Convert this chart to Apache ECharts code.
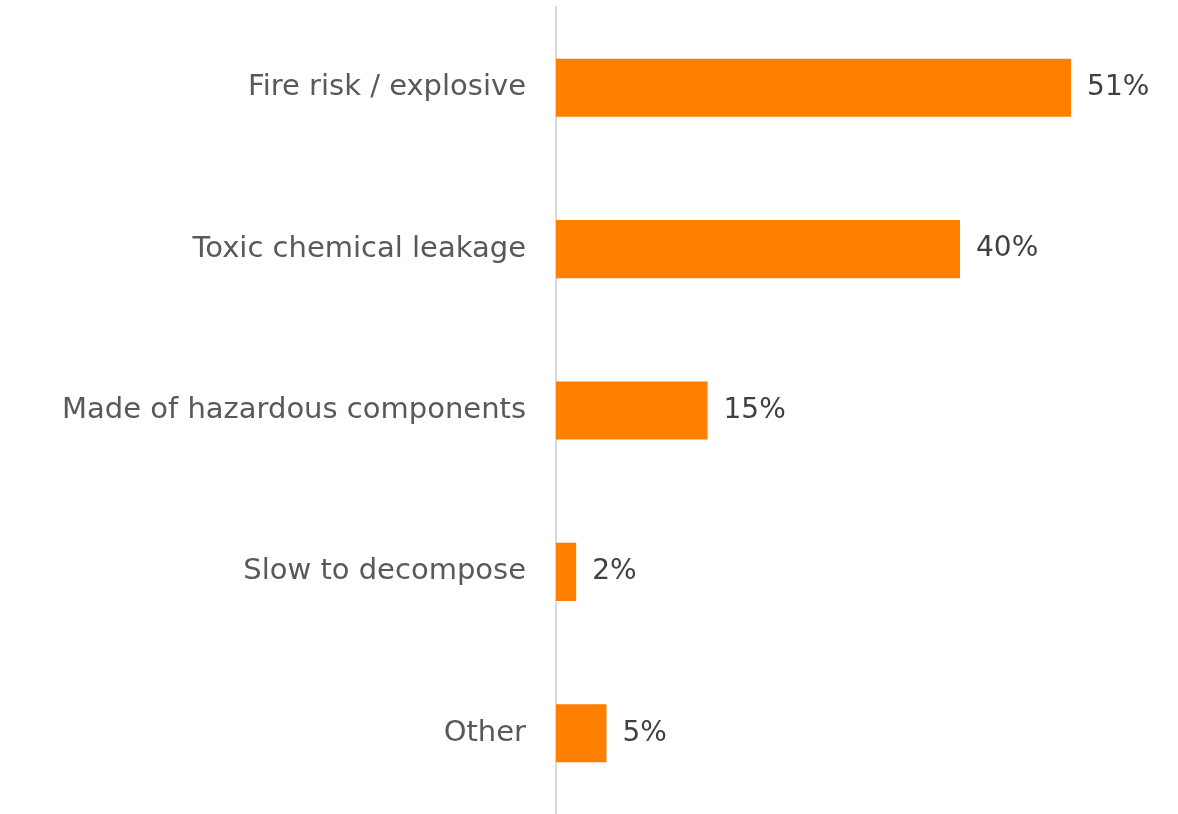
<!DOCTYPE html>
<html><head><meta charset="utf-8">
<script src="https://cdn.jsdelivr.net/npm/echarts@6/dist/echarts.min.js"></script>
<style>html,body{margin:0;padding:0;background:#fff}#c{width:1178px;height:814px}</style>
</head><body><div id="c"></div>
<script>
const categories = ["Fire risk / explosive","Toxic chemical leakage","Made of hazardous components","Slow to decompose","Other"];
const values = [51,40,15,2,5];
const chart = echarts.init(document.getElementById('c'));
chart.setOption({
  animation:false,
  grid:{left:556,right:16,top:7,bottom:-3,containLabel:false},
  xAxis:{type:'value',min:0,max:60,show:false},
  yAxis:{type:'category',inverse:true,data:categories,
    axisLine:{show:true,lineStyle:{color:'#d9d9d9',width:2}},
    axisTick:{show:false},
    axisLabel:{color:'#595959',fontSize:29,fontFamily:'DejaVu Sans',margin:30}},
  series:[{type:'bar',data:values,barCategoryGap:'64%',
    itemStyle:{color:'#FF7F00'},
    label:{show:true,position:'right',distance:16,formatter:'{c}%',color:'#404040',fontSize:28,fontFamily:'DejaVu Sans'}}]
});
</script></body></html>
